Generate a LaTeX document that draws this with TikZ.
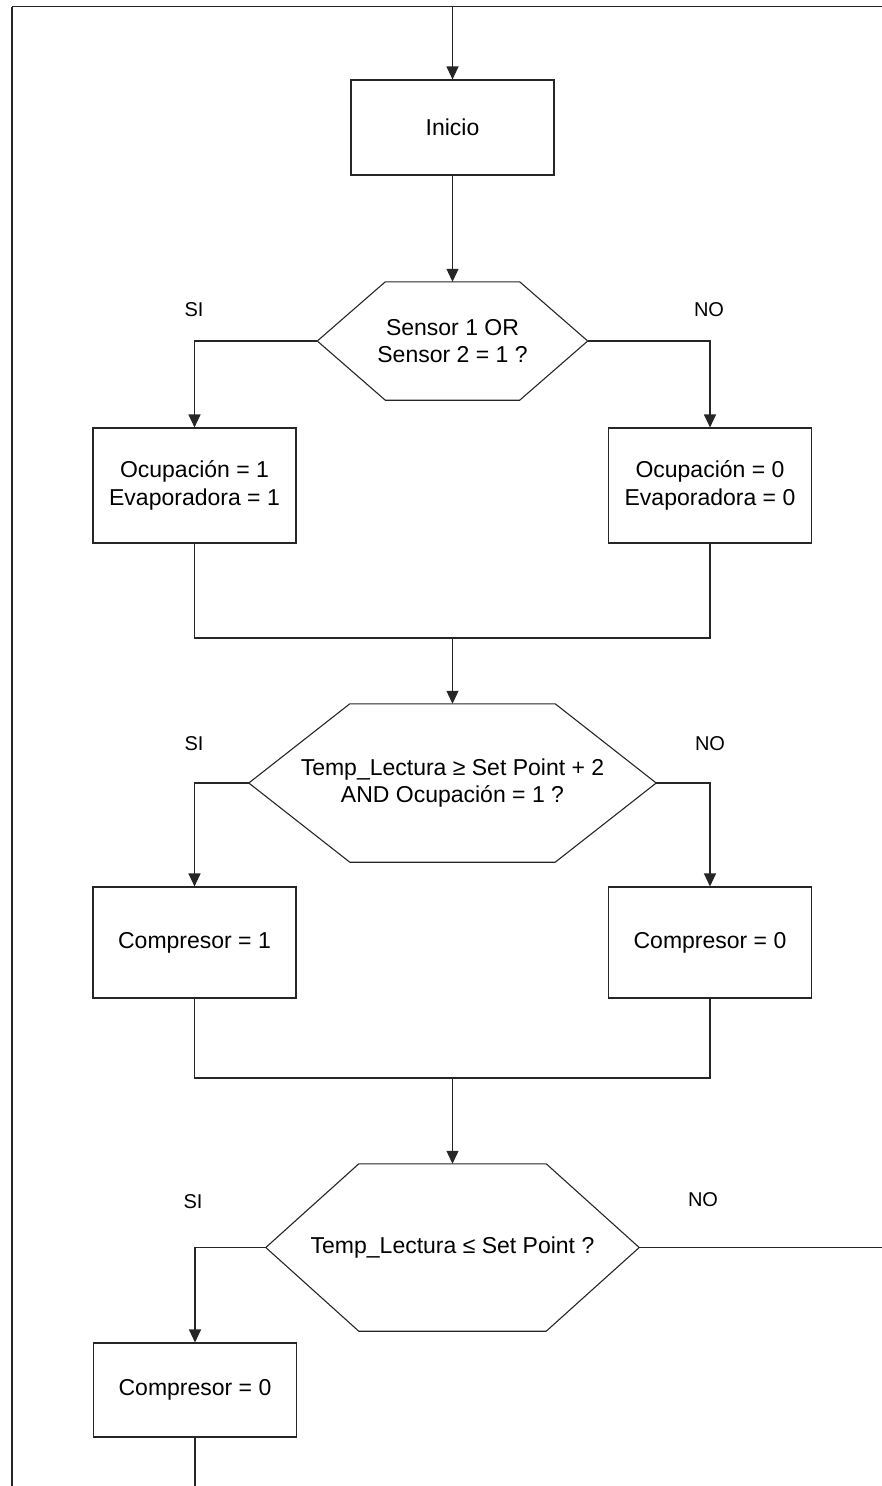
\documentclass[tikz,border=0pt]{standalone}
\usepackage{fontspec}
\setmainfont{Liberation Sans}
\usetikzlibrary{arrows.meta,positioning}
% hexagonal decision outline round an (undrawn) node
\newcommand{\hexa}[2]{\draw[linea] ([xshift=#2]#1.north west) -- ([xshift=-#2]#1.north east) -- (#1.east) -- ([xshift=-#2]#1.south east) -- ([xshift=#2]#1.south west) -- (#1.west) -- cycle;}

\begin{document}
\begin{tikzpicture}[x=1pt,y=-1pt,linea/.style={line width=1.1pt,draw=black!85},box/.style={linea,rectangle,align=center,inner sep=0pt,minimum width=203pt,font=\fontsize{23}{28}\selectfont},dec/.style={rectangle,align=center,inner sep=0pt,font=\fontsize{23}{27}\selectfont},lbl/.style={font=\fontsize{20}{24}\selectfont},arr/.style={linea,-{Triangle[length=13pt,width=12pt]}}]
\useasboundingbox (0,0) rectangle (882,1486);
\coordinate (esq) at (12,6.5);
\coordinate (fin) at (882,6.5);
\coordinate (entrada) at (452.5,6.5);
\coordinate (pie) at (12,1486);
\node[box,minimum height=95pt] (inicio) at (452.5,127.5) {Inicio};
\node[dec,minimum width=270pt,minimum height=118pt] (sensor) at (452.5,341) {Sensor 1 OR\\Sensor 2 = 1 ?};
\hexa{sensor}{68pt}
\node[box,minimum height=115pt] (ocup1) at (194.5,485.5) {Ocupación = 1\\Evaporadora = 1};
\node[box,minimum height=115pt] (ocup0) at (710,485.5) {Ocupación = 0\\Evaporadora = 0};
\coordinate (union1) at (452.5,638);
\node[dec,minimum width=407pt,minimum height=158pt] (temp) at (452.5,783) {Temp\_Lectura ≥ Set Point + 2\\AND Ocupación = 1 ?};
\hexa{temp}{101pt}
\node[box,minimum height=111pt] (comp1) at (194.5,942.5) {Compresor = 1};
\node[box,minimum height=111pt] (comp0) at (710,942.5) {Compresor = 0};
\coordinate (union2) at (452.5,1078);
\node[dec,minimum width=373pt,minimum height=167pt] (setp) at (452.5,1247.5) {Temp\_Lectura ≤ Set Point ?};
\hexa{setp}{93pt}
\node[box,minimum height=94pt] (apaga) at (195,1390) {Compresor = 0};
\coordinate (salida) at (195,1486);
\coordinate (sigue) at (882,1247.5);
\node[lbl] (si1) at (194,310) {SI};
\node[lbl] (no1) at (709,310) {NO};
\node[lbl] (si2) at (194,744) {SI};
\node[lbl] (no2) at (710,744) {NO};
\node[lbl] (si3) at (193,1202) {SI};
\node[lbl] (no3) at (703,1200) {NO};
\draw[linea] (esq)--(fin);
\draw[linea] (esq)--(pie);
\draw[arr] (entrada)--(inicio);
\draw[arr] (inicio)--(sensor);
\draw[arr] (sensor.west)-|(ocup1.north);
\draw[arr] (sensor.east)-|(ocup0.north);
\draw[linea] (ocup1.south)|-(union1)-|(ocup0.south);
\draw[arr] (union1)--(temp);
\draw[arr] (temp.west)-|(comp1.north);
\draw[arr] (temp.east)-|(comp0.north);
\draw[linea] (comp1.south)|-(union2)-|(comp0.south);
\draw[arr] (union2)--(setp);
\draw[arr] (setp.west)-|(apaga.north);
\draw[linea] (setp.east)--(sigue);
\draw[linea] (apaga)--(salida);
\end{tikzpicture}
\end{document}
